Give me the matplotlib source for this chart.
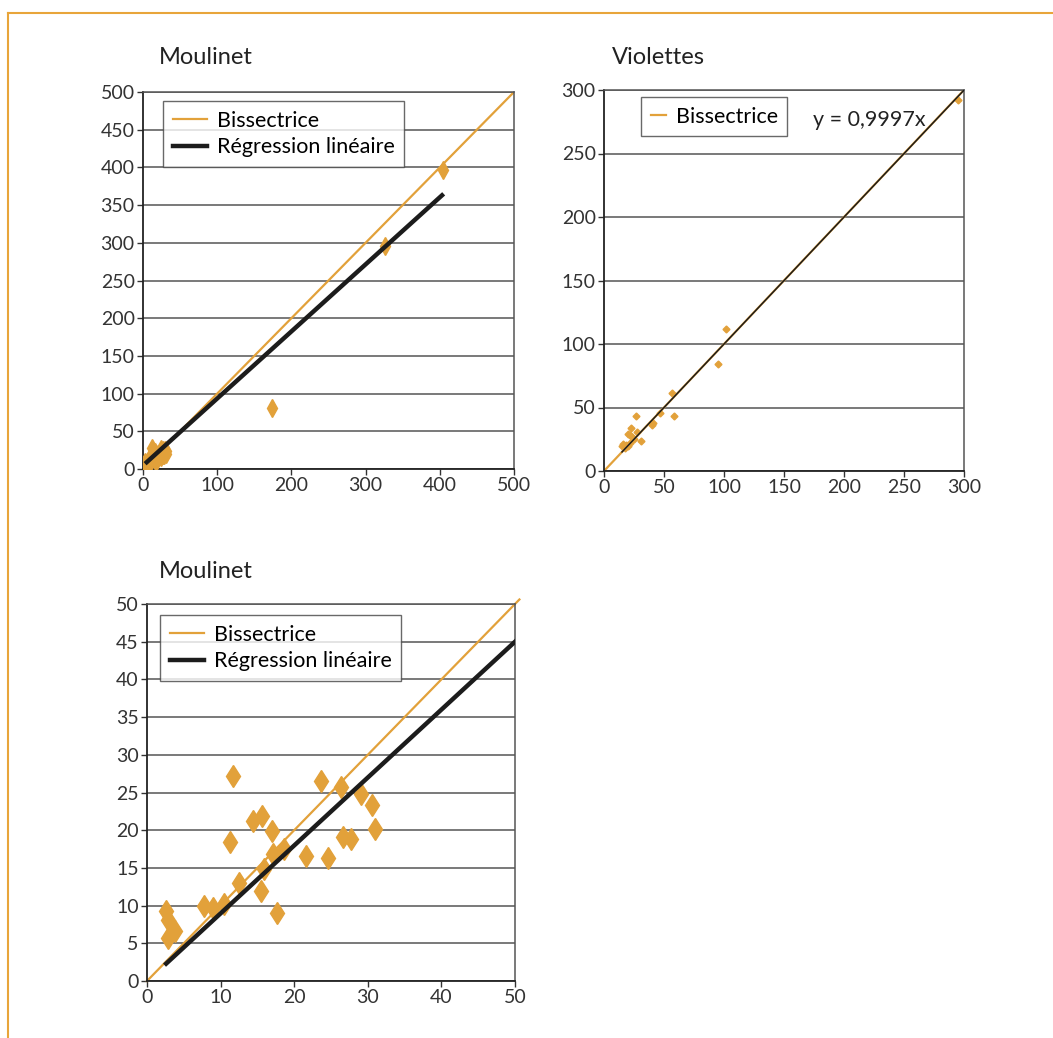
import matplotlib
matplotlib.use("Agg")
import matplotlib.pyplot as plt
from matplotlib.lines import Line2D

plt.rcParams['font.family'] = ['Lato', 'DejaVu Sans']

ORANGE = "#E2A13A"
DARK = "#1c1c1c"

# Moulinet, detail (0-50)
moul_x = [2.55, 2.9, 2.9, 3.8, 7.7, 8.9, 10.5, 11.3, 11.7, 12.5, 14.4, 15.6, 15.5, 15.9,
          17.0, 17.1, 17.6, 18.6, 21.6, 23.7, 24.6, 26.3, 26.6, 27.7, 29.1, 30.6, 31.0]
moul_y = [9.3, 8.1, 5.7, 6.6, 10.0, 9.7, 10.2, 18.5, 27.2, 13.0, 21.2, 21.9, 11.9, 14.9,
          19.9, 16.9, 9.0, 17.5, 16.6, 26.5, 16.3, 25.7, 19.1, 18.8, 24.8, 23.4, 20.2]
# extra large points of the full Moulinet chart
moul_big_x = [174, 326, 404]
moul_big_y = [81, 296, 396]

reg_full_x = [5, 403]
reg_full_y = [9, 363]
reg_zoom_x = [2.6, 50]
reg_zoom_y = [2.3, 45]

# Violettes
viol_x = [101.4, 94.8, 56.9, 58.6, 46.4, 40.9, 39.8, 26.5, 22.7, 27.1, 19.9, 21.8, 23.2,
          30.9, 25.4, 21.3, 16.0, 18.5, 15.2, 20.4, 17.1, 295]
viol_y = [112.2, 84.1, 61.7, 43.2, 45.8, 38.0, 36.5, 43.0, 33.9, 30.7, 29.4, 28.1, 26.6,
          24.0, 25.0, 22.4, 21.1, 20.8, 19.5, 19.8, 18.2, 292]
viol_fit_x = [15, 300]
viol_slope = 0.9997


def style_axes(ax, lim, step):
    ax.set_xlim(0, lim)
    ax.set_ylim(0, lim)
    ax.set_xticks(range(0, lim + 1, step))
    ax.set_yticks(range(0, lim + 1, step))
    ax.yaxis.grid(True, color="#555555", linewidth=1.1)
    ax.set_axisbelow(True)
    for side in ["left", "bottom"]:
        ax.spines[side].set_color("#222222")
        ax.spines[side].set_linewidth(1.3)
    for side in ["top", "right"]:
        ax.spines[side].set_color("#555555")
        ax.spines[side].set_linewidth(1.1)
    ax.tick_params(direction="out", length=4, width=1, colors="#333333", labelsize=14, pad=2)


def add_legend(ax, anchor, hlen):
    leg = ax.legend(loc="upper left", bbox_to_anchor=anchor, fontsize=15.5, frameon=True,
                    fancybox=False, edgecolor="#444444", handlelength=hlen,
                    handletextpad=0.45, borderpad=0.45, labelspacing=0.3, borderaxespad=0)
    leg.get_frame().set_linewidth(1.0)
    return leg


fig = plt.figure(figsize=(10.53, 10.38), dpi=100)

# orange page frame
fig.add_artist(Line2D([8 / 1053, 1], [1 - 13 / 1038] * 2, color="#E8A53A", lw=1.5))
fig.add_artist(Line2D([8 / 1053] * 2, [0, 1 - 13 / 1038], color="#E8A53A", lw=1.5))

# --- Moulinet full
ax1 = fig.add_axes([143 / 1053, 1 - 469 / 1038, 371 / 1053, 377 / 1038])
style_axes(ax1, 500, 50)
ax1.set_xticks(range(0, 501, 100))
ax1.plot([0, 500], [0, 500], color=ORANGE, lw=1.6, label="Bissectrice")
ax1.plot(moul_x + moul_big_x, moul_y + moul_big_y, linestyle="none", marker="d",
         color=ORANGE, markersize=9, zorder=3)
ax1.plot(reg_full_x, reg_full_y, color=DARK, lw=3.2, label="Régression linéaire", zorder=4)
add_legend(ax1, (0.054, 0.976), 1.6)
fig.text(159 / 1053, 1 - 58 / 1038, "Moulinet", fontsize=17, color="#222222", va="center")

# --- Violettes
ax2 = fig.add_axes([604 / 1053, 1 - 471 / 1038, 360 / 1053, 381 / 1038])
style_axes(ax2, 300, 50)
ax2.plot([0, 300], [0, 300], color=ORANGE, lw=1.6, label="Bissectrice")
ax2.plot(viol_x, viol_y, linestyle="none", marker="D", color=ORANGE, markersize=3.5, zorder=3)
ax2.plot(viol_fit_x, [viol_slope * v for v in viol_fit_x], color=DARK, lw=1.1, zorder=4)
add_legend(ax2, (0.103, 0.982), 0.7)
ax2.text(0.581, 0.92, "y = 0,9997x", transform=ax2.transAxes, fontsize=15.5,
         color="#222222", va="center")
fig.text(612 / 1053, 1 - 58 / 1038, "Violettes", fontsize=17, color="#222222", va="center")

# --- Moulinet detail
ax3 = fig.add_axes([147 / 1053, 1 - 981 / 1038, 368 / 1053, 377 / 1038])
style_axes(ax3, 50, 5)
ax3.set_xticks(range(0, 51, 10))
ax3.plot([0, 50.6], [0, 50.6], color=ORANGE, lw=1.6, label="Bissectrice", clip_on=False)
ax3.plot(moul_x, moul_y, linestyle="none", marker="d", color=ORANGE, markersize=11.5, zorder=3)
ax3.plot(reg_zoom_x, reg_zoom_y, color=DARK, lw=3.2, label="Régression linéaire", zorder=4)
add_legend(ax3, (0.035, 0.971), 1.6)
fig.text(159 / 1053, 1 - 572 / 1038, "Moulinet", fontsize=17, color="#222222", va="center")

fig.savefig("out.png", dpi=100)
